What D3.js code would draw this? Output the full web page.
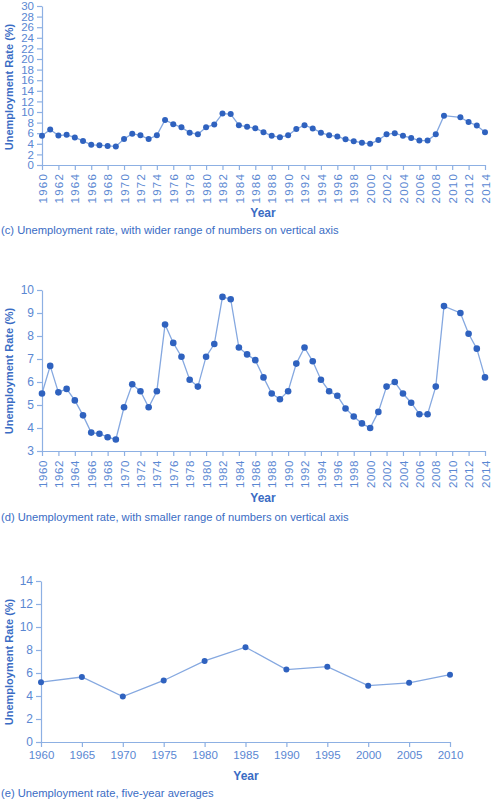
<!DOCTYPE html>
<html>
<head>
<meta charset="utf-8">
<script src="https://cdn.jsdelivr.net/npm/d3@7"></script>
<style>
  body { margin: 0; background: #fff; }
  svg text { font-family: "Liberation Sans", Arial, sans-serif; }
</style>
</head>
<body>
<svg id="chart" width="493" height="800"></svg>
<script>
// yearly unemployment rate, the source chart skips 2010
const years = [1960, 1961, 1962, 1963, 1964, 1965, 1966, 1967, 1968, 1969,
  1970, 1971, 1972, 1973, 1974, 1975, 1976, 1977, 1978, 1979,
  1980, 1981, 1982, 1983, 1984, 1985, 1986, 1987, 1988, 1989,
  1990, 1991, 1992, 1993, 1994, 1995, 1996, 1997, 1998, 1999,
  2000, 2001, 2002, 2003, 2004, 2005, 2006, 2007, 2008, 2009,
  2011, 2012, 2013, 2014];
const rates = [5.5, 6.7, 5.55, 5.7, 5.2, 4.55, 3.8, 3.75, 3.6, 3.5,
  4.9, 5.9, 5.6, 4.9, 5.6, 8.5, 7.7, 7.1, 6.1, 5.8,
  7.1, 7.65, 9.7, 9.6, 7.5, 7.2, 6.95, 6.2, 5.5, 5.25,
  5.6, 6.8, 7.5, 6.9, 6.1, 5.6, 5.4, 4.85, 4.5, 4.2,
  4.0, 4.7, 5.8, 6.0, 5.5, 5.1, 4.6, 4.6, 5.8, 9.3,
  9.0, 8.1, 7.45, 6.2];

// five-year averages
const avgYears = [1960, 1965, 1970, 1975, 1980, 1985, 1990, 1995, 2000, 2005, 2010];
const avgRates = [5.2, 5.65, 3.95, 5.35, 7.05, 8.25, 6.3, 6.55, 4.9, 5.15, 5.85];

// tick labels
const yearTicks = [1960, 1962, 1964, 1966, 1968, 1970, 1972, 1974, 1976, 1978,
  1980, 1982, 1984, 1986, 1988, 1990, 1992, 1994, 1996, 1998,
  2000, 2002, 2004, 2006, 2008, 2010, 2012, 2014];
const wideTicks = [0, 2, 4, 6, 8, 10, 12, 14, 16, 18, 20, 22, 24, 26, 28, 30];
const narrowTicks = [3, 4, 5, 6, 7, 8, 9, 10];
const avgTicks = [0, 2, 4, 6, 8, 10, 12, 14];

const captions = [
  "(c) Unemployment rate, with wider range of numbers on vertical axis",
  "(d) Unemployment rate, with smaller range of numbers on vertical axis",
  "(e) Unemployment rate, five-year averages"
];

const axisColor = "#8db0e3";
const tickText = "#5a87d2";
const titleColor = "#3a6cc4";
const dotColor = "#2f62bf";
const lineColor = "#85a8e0";

const svg = d3.select("#chart");

const drawPanel = (p) => {
  const g = svg.append("g");
  const x = d3.scaleLinear().domain(p.xDomain).range([p.left, p.right]);
  const y = d3.scaleLinear().domain(p.yDomain).range([p.bottom, p.top]);

  // y axis
  const yAxis = g.append("g")
    .attr("transform", "translate(" + p.left + ",0)")
    .call(d3.axisLeft(y).tickValues(p.yTicks).tickFormat(d3.format("d")).tickSize(5).tickSizeOuter(0).tickPadding(3));

  // x axis
  const xAxis = g.append("g")
    .attr("transform", "translate(0," + p.bottom + ")")
    .call(d3.axisBottom(x).tickValues(p.xTicks).tickFormat(d3.format("d")).tickSize(5).tickSizeOuter(0));

  [yAxis, xAxis].forEach((a) => {
    a.select(".domain").attr("stroke", axisColor).attr("stroke-width", 1.2);
    a.selectAll(".tick line").attr("stroke", axisColor).attr("stroke-width", 1.2);
    a.selectAll(".tick text").attr("fill", tickText);
  });
  yAxis.selectAll(".tick text").style("font-size", p.yFont + "px");
  xAxis.selectAll(".tick text").style("font-size", p.xFont + "px");

  if (p.rotate) {
    xAxis.selectAll(".tick text")
      .attr("transform", "rotate(-90)")
      .attr("text-anchor", "end")
      .attr("x", -p.labelGap)
      .attr("y", 0)
      .attr("dy", "0.36em")
      .style("letter-spacing", p.spacing + "px");
  } else {
    xAxis.selectAll(".tick text").attr("y", 9);
  }

  const line = d3.line().x((d) => x(d[0])).y((d) => y(d[1]));
  const pts = p.xs.map((v, i) => [v, p.ys[i]]);

  g.append("path")
    .datum(pts)
    .attr("d", line)
    .attr("fill", "none")
    .attr("stroke", lineColor)
    .attr("stroke-width", 1.3);

  g.selectAll("circle")
    .data(pts)
    .enter()
    .append("circle")
    .attr("cx", (d) => x(d[0]))
    .attr("cy", (d) => y(d[1]))
    .attr("r", p.r)
    .attr("fill", dotColor);

  // titles
  g.append("text")
    .attr("transform", "translate(13," + p.yTitle + ") rotate(-90)")
    .attr("text-anchor", "middle")
    .attr("fill", titleColor)
    .style("font-size", "11px")
    .style("font-weight", "bold")
    .text("Unemployment Rate (%)");

  g.append("text")
    .attr("x", p.yearX)
    .attr("y", p.yearY)
    .attr("text-anchor", "middle")
    .attr("fill", titleColor)
    .style("font-size", "12px")
    .style("font-weight", "bold")
    .text("Year");

  g.append("text")
    .attr("x", 1)
    .attr("y", p.capY)
    .attr("fill", titleColor)
    .style("font-size", "11.2px")
    .text(p.caption);
};

drawPanel({
  xs: years, ys: rates, xDomain: [1960, 2014], yDomain: [0, 30],
  xTicks: yearTicks, yTicks: wideTicks,
  left: 42, right: 485, top: 6, bottom: 165,
  rotate: true, labelGap: 8, spacing: 1.2, r: 3, yFont: 11.5, xFont: 11.5,
  yTitle: 87, yearX: 263, yearY: 217, capY: 234, caption: captions[0]
});

drawPanel({
  xs: years, ys: rates, xDomain: [1960, 2014], yDomain: [3, 10],
  xTicks: yearTicks, yTicks: narrowTicks,
  left: 42, right: 485, top: 290, bottom: 451,
  rotate: true, labelGap: 9, spacing: 0.6, r: 3.3, yFont: 12, xFont: 11.5,
  yTitle: 371, yearX: 263, yearY: 502, capY: 521, caption: captions[1]
});

drawPanel({
  xs: avgYears, ys: avgRates, xDomain: [1960, 2010], yDomain: [0, 14],
  xTicks: avgYears, yTicks: avgTicks,
  left: 41, right: 450, top: 581, bottom: 742,
  rotate: false, r: 3, yFont: 12, xFont: 11.5,
  yTitle: 662, yearX: 246, yearY: 780, capY: 797, caption: captions[2]
});
</script>
</body>
</html>
